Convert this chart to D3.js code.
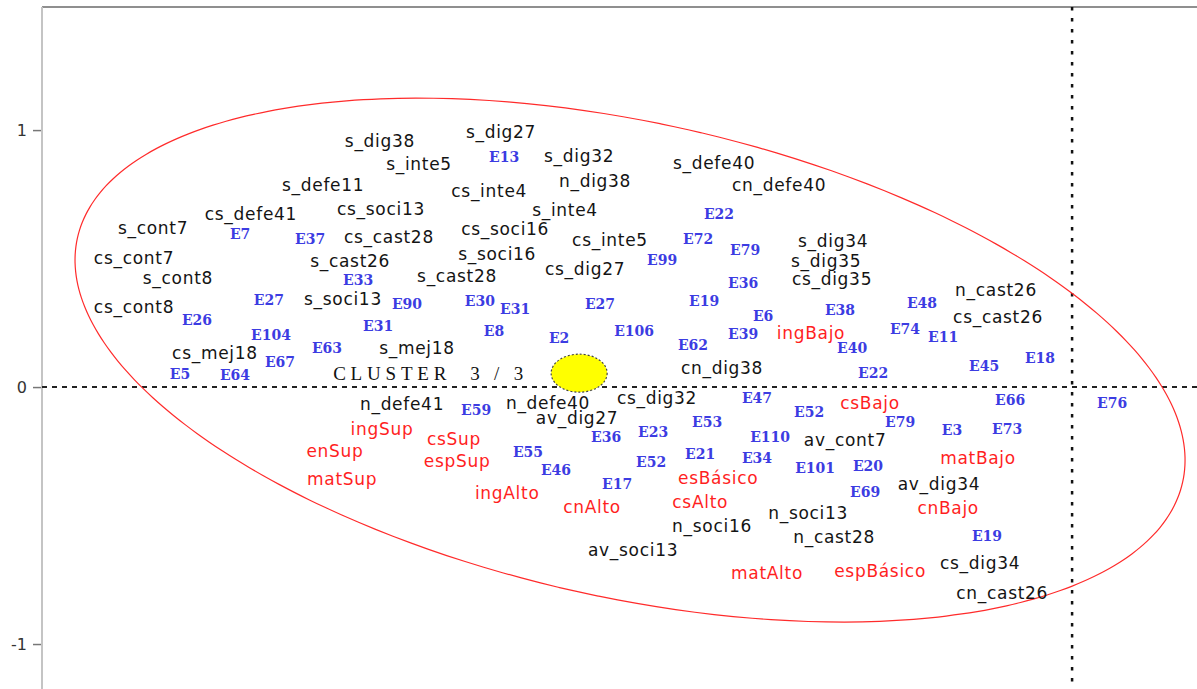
<!DOCTYPE html>
<html>
<head>
<meta charset="utf-8">
<script src="https://cdn.jsdelivr.net/npm/d3@7"></script>
<style>
  html, body { margin: 0; padding: 0; background: #fff; }
  svg { display: block; }
</style>
</head>
<body>
<svg id="chart" width="1197" height="689"></svg>
<script>
// Factorial plane, cluster 3 of 3: variables (black), modalities (red), individuals (blue)
const yTicks = [-1, 0, 1];

const variableLabels = [
  ["s_dig38", -2.693, 0.957], ["s_dig27", -2.222, 0.992], ["s_inte5", -2.541, 0.868],
  ["s_dig32", -1.918, 0.899], ["s_defe40", -1.393, 0.872], ["s_defe11", -2.914, 0.786],
  ["cs_inte4", -2.268, 0.763], ["n_dig38", -1.856, 0.802], ["cn_defe40", -1.140, 0.786],
  ["cs_defe41", -3.195, 0.673], ["cs_soci13", -2.689, 0.693], ["s_inte4", -1.973, 0.689],
  ["s_cont7", -3.576, 0.619], ["cs_cast28", -2.658, 0.584], ["cs_soci16", -2.206, 0.615],
  ["cs_inte5", -1.798, 0.572], ["s_dig34", -0.930, 0.568], ["cs_cont7", -3.650, 0.502],
  ["s_cast26", -2.809, 0.490], ["s_soci16", -2.237, 0.518], ["s_dig35", -0.957, 0.490],
  ["cs_dig27", -1.895, 0.459], ["s_cont8", -3.479, 0.424], ["s_cast28", -2.393, 0.432],
  ["cs_dig35", -0.934, 0.420], ["n_cast26", -0.296, 0.377], ["cs_cont8", -3.650, 0.311],
  ["s_soci13", -2.837, 0.342], ["cs_cast26", -0.288, 0.272], ["cs_mej18", -3.335, 0.132],
  ["s_mej18", -2.549, 0.152], ["cn_dig38", -1.362, 0.074], ["n_defe41", -2.607, -0.066],
  ["n_defe40", -2.039, -0.062], ["cs_dig32", -1.615, -0.043], ["av_dig27", -1.926, -0.121],
  ["av_cont7", -0.883, -0.206], ["av_dig34", -0.518, -0.377], ["n_soci16", -1.401, -0.541],
  ["n_soci13", -1.027, -0.490], ["n_cast28", -0.926, -0.584], ["av_soci13", -1.708, -0.634],
  ["cs_dig34", -0.358, -0.685], ["cn_cast26", -0.272, -0.802]
];

const modalityLabels = [
  ["ingBajo", -1.016, 0.210], ["csBajo", -0.786, -0.062], ["ingSup", -2.685, -0.163],
  ["csSup", -2.405, -0.202], ["enSup", -2.868, -0.249], ["espSup", -2.393, -0.288],
  ["matSup", -2.840, -0.358], ["matBajo", -0.366, -0.276], ["ingAlto", -2.198, -0.412],
  ["esBásico", -1.377, -0.354], ["csAlto", -1.447, -0.447], ["cnAlto", -1.868, -0.467],
  ["cnBajo", -0.482, -0.471], ["matAlto", -1.187, -0.724], ["espBásico", -0.747, -0.716]
];

const individualLabels = [
  ["E13", -2.210, 0.895], ["E22", -1.374, 0.673], ["E7", -3.237, 0.595],
  ["E37", -2.965, 0.576], ["E72", -1.455, 0.576], ["E79", -1.272, 0.533],
  ["E99", -1.595, 0.494], ["E33", -2.778, 0.416], ["E36", -1.280, 0.405],
  ["E27", -3.125, 0.339], ["E90", -2.588, 0.323], ["E30", -2.304, 0.335],
  ["E31", -2.167, 0.304], ["E27", -1.837, 0.323], ["E19", -1.432, 0.335],
  ["E48", -0.584, 0.327], ["E38", -0.903, 0.300], ["E26", -3.405, 0.261],
  ["E6", -1.202, 0.276], ["E31", -2.700, 0.237], ["E104", -3.117, 0.202],
  ["E8", -2.249, 0.218], ["E2", -1.996, 0.191], ["E106", -1.704, 0.218],
  ["E39", -1.280, 0.206], ["E74", -0.650, 0.226], ["E11", -0.502, 0.195],
  ["E63", -2.899, 0.152], ["E62", -1.475, 0.163], ["E40", -0.856, 0.152],
  ["E67", -3.082, 0.097], ["E5", -3.471, 0.051], ["E64", -3.257, 0.047],
  ["E22", -0.774, 0.054], ["E45", -0.342, 0.082], ["E18", -0.125, 0.113],
  ["E59", -2.319, -0.089], ["E47", -1.226, -0.043], ["E52", -1.023, -0.097],
  ["E66", -0.241, -0.051], ["E76", 0.156, -0.062], ["E36", -1.813, -0.195],
  ["E23", -1.630, -0.175], ["E53", -1.420, -0.136], ["E79", -0.669, -0.136],
  ["E3", -0.467, -0.167], ["E73", -0.253, -0.163], ["E110", -1.175, -0.195],
  ["E55", -2.117, -0.253], ["E46", -2.008, -0.323], ["E52", -1.638, -0.292],
  ["E21", -1.447, -0.261], ["E34", -1.226, -0.276], ["E101", -1.000, -0.315],
  ["E20", -0.794, -0.307], ["E17", -1.770, -0.377], ["E69", -0.805, -0.409],
  ["E19", -0.331, -0.580]
];

// Cluster centroid and its confidence ellipse (centre x, centre y, semi-axes, rotation in degrees)
const clusterName = "CLUSTER  3 / 3";
const clusterCentroid = [-1.918, 0.054];
const clusterEllipse = [-1.720, 0.105, 2.202, 0.924, -12.44];

const svg = d3.select("#chart");
const W = 1197, H = 689;
const plotLeft = 42, plotTop = 7;

const x = d3.scaleLinear().domain([-4.008, 0.486]).range([plotLeft, W]);
const y = d3.scaleLinear().domain([-1.175, 1.479]).range([H, plotTop]);

// frame: top border and left axis
svg.append("line")
  .attr("x1", plotLeft).attr("x2", W).attr("y1", plotTop).attr("y2", plotTop)
  .attr("stroke", "#6a6a6a").attr("stroke-width", 1.5);

const yAxis = svg.append("g")
  .attr("transform", `translate(${plotLeft},0)`)
  .call(d3.axisLeft(y).tickValues(yTicks).tickFormat(d => String(d)).tickSize(9).tickPadding(6));
yAxis.select(".domain").remove();
yAxis.selectAll(".tick line").attr("stroke", "#777").attr("stroke-width", 1.5);
yAxis.selectAll(".tick text")
  .attr("fill", "#333").attr("font-family", "DejaVu Sans, sans-serif").attr("font-size", 16);
svg.append("line")
  .attr("x1", plotLeft).attr("x2", plotLeft).attr("y1", plotTop).attr("y2", H)
  .attr("stroke", "#c4c4c4").attr("stroke-width", 2);

// origin lines
svg.append("line")
  .attr("x1", plotLeft).attr("x2", W).attr("y1", y(0)).attr("y2", y(0))
  .attr("stroke", "#222").attr("stroke-width", 2).attr("stroke-dasharray", "5,5");
svg.append("line")
  .attr("x1", x(0)).attr("x2", x(0)).attr("y1", plotTop).attr("y2", H)
  .attr("stroke", "#111").attr("stroke-width", 2.5).attr("stroke-dasharray", "3.5,7.5");

// cluster ellipse, sampled in data space
const [ecx, ecy, ea, eb, eang] = clusterEllipse;
const th = eang * Math.PI / 180;
const ellPts = d3.range(0, 360, 2).map(deg => {
  const t = deg * Math.PI / 180;
  return [
    ecx + ea * Math.cos(t) * Math.cos(th) - eb * Math.sin(t) * Math.sin(th),
    ecy + ea * Math.cos(t) * Math.sin(th) + eb * Math.sin(t) * Math.cos(th)
  ];
});
svg.append("path")
  .attr("d", d3.line().x(d => x(d[0])).y(d => y(d[1])).curve(d3.curveCardinalClosed)(ellPts))
  .attr("fill", "none").attr("stroke", "#ff2b2b").attr("stroke-width", 1.2);

// labels
function drawLabels(data, color, family, size, spacing, weight) {
  svg.append("g").selectAll("text").data(data).join("text")
    .attr("x", d => x(d[1])).attr("y", d => y(d[2]))
    .attr("text-anchor", "middle").attr("dominant-baseline", "central")
    .attr("fill", color).attr("font-family", family).attr("font-size", size)
    .attr("font-weight", weight)
    .attr("letter-spacing", spacing)
    .text(d => d[0]);
}
drawLabels(individualLabels, "#3c3ce2", "DejaVu Serif, serif", 14, 0, "bold");
drawLabels(variableLabels, "#141414", "DejaVu Sans, sans-serif", 17, 0.7, "normal");
drawLabels(modalityLabels, "#ff1f1f", "DejaVu Sans, sans-serif", 17, 0.7, "normal");

// centroid marker and cluster name
svg.append("ellipse")
  .attr("cx", x(clusterCentroid[0])).attr("cy", y(clusterCentroid[1]))
  .attr("rx", 28).attr("ry", 19)
  .attr("fill", "#ffff00").attr("stroke", "#444").attr("stroke-width", 1.2)
  .attr("stroke-dasharray", "2,2");
svg.append("text")
  .attr("x", x(clusterCentroid[0]) - 246).attr("y", y(clusterCentroid[1]))
  .attr("dominant-baseline", "central")
  .attr("font-family", "Liberation Serif, serif").attr("font-size", 19)
  .attr("fill", "#111").style("white-space", "pre")
  .attr("textLength", 190).attr("lengthAdjust", "spacing")
  .text(clusterName);
</script>
</body>
</html>
